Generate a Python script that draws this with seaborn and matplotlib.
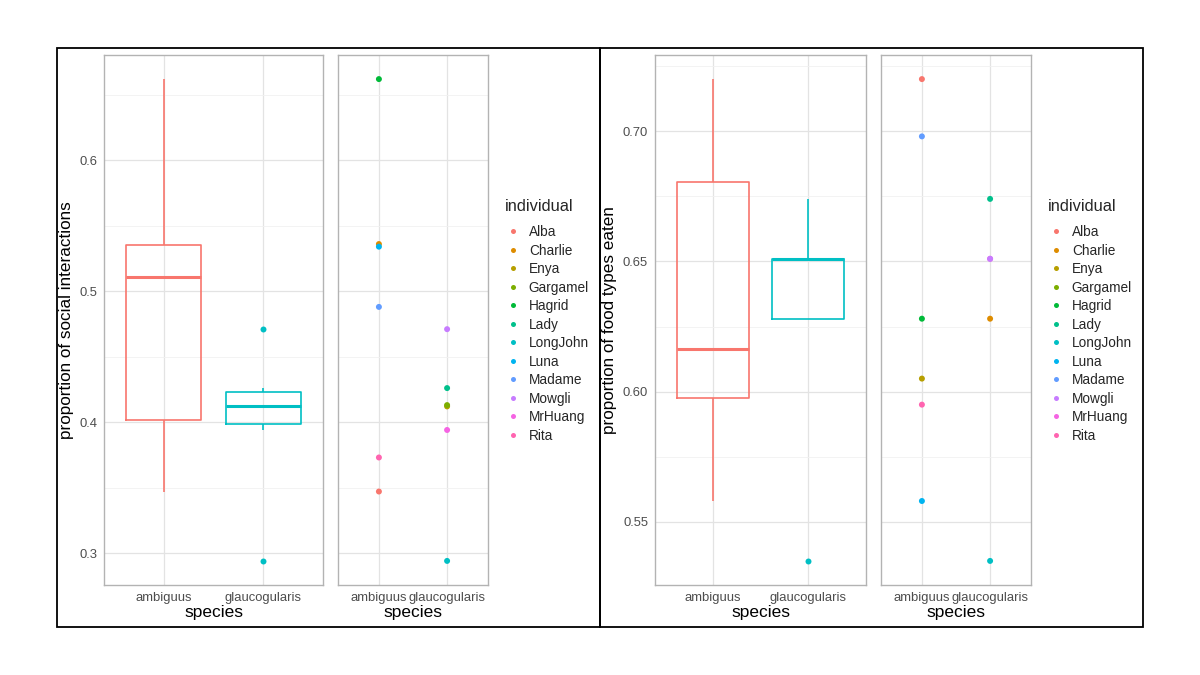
import numpy as np
import pandas as pd
import matplotlib
matplotlib.use("Agg")
import matplotlib.pyplot as plt
import seaborn as sns
from matplotlib.patches import Rectangle
from matplotlib.lines import Line2D
from matplotlib.ticker import MultipleLocator, AutoMinorLocator, FormatStrFormatter

# ---------------- data ----------------
individuals = ["Alba", "Charlie", "Enya", "Gargamel", "Hagrid", "Lady",
               "LongJohn", "Luna", "Madame", "Mowgli", "MrHuang", "Rita"]
ind_colors = ["#F8766D", "#DE8C00", "#B79F00", "#7CAE00", "#00BA38", "#00C08B",
              "#00BFC4", "#00B4F0", "#619CFF", "#C77CFF", "#F564E3", "#FF64B0"]
species_levels = ["ambiguus", "glaucogularis"]
species_colors = ["#F8766D", "#00BFC4"]

soc_individual = ["Alba", "Charlie", "Hagrid", "Luna", "Madame", "Rita",
                  "Enya", "Gargamel", "Lady", "LongJohn", "Mowgli", "MrHuang"]
soc_species = ["ambiguus"] * 6 + ["glaucogularis"] * 6
soc_value = [0.347, 0.536, 0.662, 0.534, 0.488, 0.373,
             0.412, 0.413, 0.426, 0.294, 0.471, 0.394]

food_individual = ["Alba", "Madame", "Hagrid", "Enya", "Rita", "Luna",
                   "Lady", "MrHuang", "Mowgli", "Charlie", "LongJohn"]
food_species = ["ambiguus"] * 6 + ["glaucogularis"] * 5
food_value = [0.720, 0.698, 0.628, 0.605, 0.595, 0.558,
              0.674, 0.651, 0.651, 0.628, 0.535]

soc_ylabel = "proportion of social interactions"
food_ylabel = "proportion of food types eaten"
xlabel = "species"
legend_title = "individual"

# ---------------- style ----------------
sns.set_theme(style="white")
plt.rcParams["font.family"] = ["Liberation Sans", "DejaVu Sans"]

W, H = 1200, 675
fig = plt.figure(figsize=(12, 6.75), dpi=100)
fig.patch.set_facecolor("white")

def px_axes(x0, x1, y0, y1):
    return fig.add_axes([x0 / W, 1 - y1 / H, (x1 - x0) / W, (y1 - y0) / H])

ind_pal = dict(zip(individuals, ind_colors))
sp_pal = dict(zip(species_levels, species_colors))

BORDER = "#B3B3B3"
GRID_MAJ = "#E3E3E3"
GRID_MIN = "#F1F1F1"
TICKTXT = "#4D4D4D"

def style_axes(ax, major, fmt, show_y):
    ax.yaxis.set_major_locator(MultipleLocator(major))
    ax.yaxis.set_minor_locator(AutoMinorLocator(2))
    ax.yaxis.set_major_formatter(FormatStrFormatter(fmt))
    ax.grid(which="major", axis="both", color=GRID_MAJ, lw=0.9)
    ax.grid(which="minor", axis="y", color=GRID_MIN, lw=0.6)
    ax.set_axisbelow(True)
    for s in ax.spines.values():
        s.set_color(BORDER)
        s.set_linewidth(1.0)
    ax.tick_params(axis="x", which="major", colors=BORDER, labelcolor=TICKTXT,
                   labelsize=9.4, length=3, width=0.6, pad=2)
    ax.tick_params(axis="y", which="minor", length=0)
    if show_y:
        ax.tick_params(axis="y", which="major", colors=BORDER, labelcolor=TICKTXT,
                       labelsize=9.4, length=3, width=0.6, pad=2)
    else:
        ax.tick_params(axis="y", which="major", length=0, labelleft=False)
        ax.set_ylabel("")
    ax.set_xlabel(xlabel, fontsize=12.5, color="black", labelpad=1)
    ax.set_xlim(-0.6, 1.6)

def ggrange(vals):
    lo, hi = min(vals), max(vals)
    pad = (hi - lo) * 0.05
    return lo - pad, hi + pad

def make_block(df, ylabel, major, fmt, box_px, dot_px, legend_x):
    ylim = ggrange(df["value"])
    axb = px_axes(*box_px, 55, 585)
    sns.boxplot(data=df, x="species", y="value", hue="species",
                order=species_levels, hue_order=species_levels, palette=sp_pal,
                fill=False, dodge=False, width=0.75, linewidth=1.2,
                showcaps=False, whis=1.5, legend=False,
                flierprops=dict(marker="o", markersize=4.3, markeredgewidth=0),
                medianprops=dict(linewidth=2.2), ax=axb)
    for ln in axb.lines:
        if ln.get_marker() == "o":
            ln.set_markerfacecolor(ln.get_markeredgecolor())
            ln.set_markeredgewidth(0)
    axb.set_ylim(*ylim)
    style_axes(axb, major, fmt, True)
    axb.set_ylabel(ylabel, fontsize=12.3, color="black", labelpad=4)

    axd = px_axes(*dot_px, 55, 585)
    sns.stripplot(data=df, x="species", y="value", hue="individual",
                  order=species_levels, hue_order=individuals, palette=ind_pal,
                  jitter=False, size=4.3, linewidth=0, legend=False, ax=axd)
    axd.set_ylim(*ylim)
    style_axes(axd, major, fmt, False)

    handles = [Line2D([], [], marker="o", ls="", color=c, markersize=3.6,
                      markeredgewidth=0) for c in ind_colors]
    leg = axd.legend(handles, individuals, title=legend_title,
                     loc="upper left", bbox_to_anchor=(legend_x / W, 1 - 199 / H),
                     bbox_transform=fig.transFigure, frameon=False,
                     fontsize=9.8, title_fontsize=11.8, borderpad=0,
                     borderaxespad=0, labelspacing=0.33, handlelength=1.2,
                     handletextpad=0.55, alignment="left")
    leg._legend_box.sep = 8

soc_df = pd.DataFrame({"individual": soc_individual, "species": soc_species,
                       "value": soc_value})
food_df = pd.DataFrame({"individual": food_individual, "species": food_species,
                        "value": food_value})

make_block(soc_df, soc_ylabel, 0.1, "%.1f", (104, 323), (338, 488), 505)
make_block(food_df, food_ylabel, 0.05, "%.2f", (655, 866), (881, 1031), 1048)

# outer frames
for x0, x1 in [(57, 600), (600, 1143)]:
    fig.patches.append(Rectangle((x0 / W, 1 - 627 / H), (x1 - x0) / W, (627 - 48) / H,
                                 transform=fig.transFigure, fill=False,
                                 edgecolor="black", lw=1.3, zorder=10))

fig.savefig("out.png", dpi=100, facecolor="white")
